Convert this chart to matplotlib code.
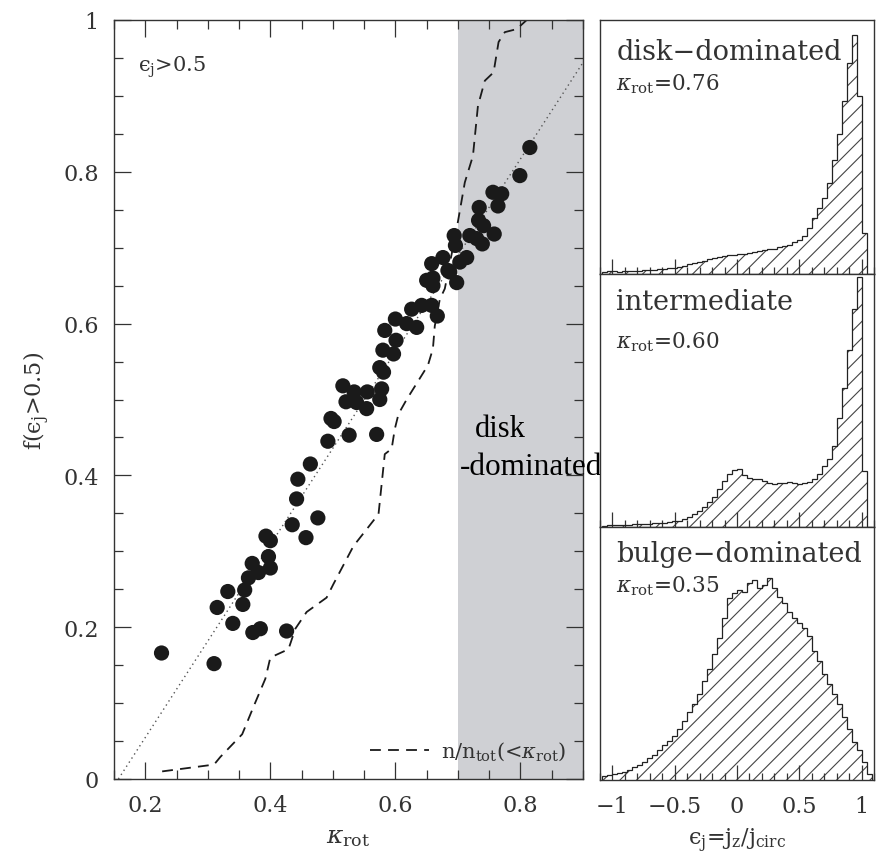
import numpy as np
import matplotlib
matplotlib.use("Agg")
import matplotlib.pyplot as plt
from matplotlib.ticker import MultipleLocator, NullLocator, NullFormatter

plt.rcParams['font.family'] = ['DejaVu Serif']
plt.rcParams['mathtext.fontset'] = 'dejavuserif'
plt.rcParams['hatch.linewidth'] = 0.8
plt.rcParams['hatch.color'] = '#444444'

# ---------------- data ----------------
kappa_rot = [0.226, 0.310, 0.315, 0.332, 0.340, 0.356, 0.359, 0.365, 0.371, 0.381,
             0.372, 0.384, 0.397, 0.400, 0.393, 0.400, 0.426, 0.435, 0.442, 0.444,
             0.457, 0.464, 0.476, 0.492, 0.497, 0.502, 0.526, 0.570, 0.521, 0.538,
             0.554, 0.575, 0.516, 0.534, 0.555, 0.578, 0.575, 0.581, 0.580, 0.597,
             0.601, 0.583, 0.600, 0.618, 0.634, 0.626, 0.642, 0.658, 0.667, 0.650,
             0.660, 0.660, 0.676, 0.687, 0.698, 0.694, 0.696, 0.714, 0.703, 0.719,
             0.730, 0.739, 0.741, 0.758, 0.733, 0.734, 0.756, 0.770, 0.764, 0.799,
             0.815, 0.658, 0.684]
f_eps = [0.166, 0.152, 0.226, 0.247, 0.205, 0.230, 0.249, 0.265, 0.284, 0.272,
         0.193, 0.198, 0.293, 0.278, 0.320, 0.314, 0.195, 0.335, 0.369, 0.395,
         0.318, 0.415, 0.344, 0.445, 0.475, 0.471, 0.453, 0.454, 0.497, 0.496,
         0.488, 0.500, 0.518, 0.510, 0.510, 0.514, 0.542, 0.536, 0.565, 0.560,
         0.578, 0.591, 0.606, 0.600, 0.595, 0.619, 0.624, 0.624, 0.610, 0.657,
         0.650, 0.660, 0.687, 0.668, 0.654, 0.716, 0.703, 0.687, 0.681, 0.716,
         0.712, 0.705, 0.729, 0.718, 0.736, 0.753, 0.773, 0.771, 0.755, 0.795,
         0.832, 0.679, 0.670]

fit_kappa = [0.157, 0.90]
fit_f = [0.0, 0.944]

cum_kappa = [0.227, 0.310, 0.320, 0.355, 0.374, 0.392, 0.400, 0.429, 0.440, 0.458,
             0.490, 0.501, 0.533, 0.554, 0.573, 0.583, 0.594, 0.599, 0.605, 0.618,
             0.652, 0.660, 0.663, 0.671, 0.679, 0.698, 0.711, 0.724, 0.732, 0.743,
             0.757, 0.765, 0.775, 0.794, 0.810]
cum_frac = [0.010, 0.019, 0.029, 0.059, 0.097, 0.132, 0.160, 0.171, 0.198, 0.220,
            0.239, 0.257, 0.307, 0.329, 0.349, 0.428, 0.435, 0.461, 0.481, 0.500,
            0.545, 0.567, 0.597, 0.632, 0.646, 0.725, 0.786, 0.821, 0.887, 0.920,
            0.931, 0.971, 0.984, 0.988, 1.000]

disk_region = [0.7, 0.9]

# histogram bin centers from -1.06 to 1.06 (bin width 0.04), heights normalised
disk_h = [0.006, 0.010, 0.010, 0.008, 0.010, 0.010, 0.012, 0.012, 0.014, 0.015,
          0.016, 0.018, 0.020, 0.022, 0.025, 0.028, 0.032, 0.038, 0.042, 0.048,
          0.052, 0.058, 0.062, 0.066, 0.070, 0.074, 0.076,
          0.078, 0.080, 0.084, 0.088, 0.090, 0.094, 0.098, 0.100, 0.105, 0.110,
          0.115, 0.125, 0.135, 0.150, 0.180, 0.220, 0.260, 0.300, 0.360, 0.450,
          0.550, 0.680, 0.830, 0.940, 0.700, 0.160, 0.000]
inter_h = [0.005, 0.008, 0.008, 0.008, 0.008, 0.009, 0.010, 0.010, 0.012, 0.012,
           0.014, 0.015, 0.016, 0.020, 0.022, 0.025, 0.030, 0.040, 0.050, 0.065,
           0.080, 0.100, 0.120, 0.150, 0.180, 0.210, 0.225,
           0.228, 0.205, 0.195, 0.190, 0.188, 0.180, 0.175, 0.170, 0.174, 0.175,
           0.176, 0.172, 0.170, 0.172, 0.178, 0.190, 0.210, 0.240, 0.270, 0.320,
           0.430, 0.550, 0.700, 0.860, 0.990, 0.220, 0.000]
bulge_h = [0.015, 0.018, 0.022, 0.026, 0.032, 0.040, 0.050, 0.060, 0.072, 0.085,
           0.100, 0.120, 0.138, 0.155, 0.175, 0.200, 0.235, 0.270, 0.300, 0.340,
           0.390, 0.440, 0.500, 0.560, 0.640, 0.720, 0.740,
           0.750, 0.745, 0.780, 0.790, 0.760, 0.770, 0.800, 0.760, 0.725, 0.700,
           0.665, 0.640, 0.620, 0.600, 0.570, 0.510, 0.470, 0.420, 0.380, 0.340,
           0.300, 0.250, 0.200, 0.150, 0.120, 0.070, 0.025]
bin_lo, bin_hi = -1.08, 1.08

panel_titles = ['disk\u2212dominated', 'intermediate', 'bulge\u2212dominated']
panel_kappas = ['0.76', '0.60', '0.35']
hist_xticks = [-1, -0.5, 0, 0.5, 1]
hist_xticklabels = ['\u22121', '\u22120.5', '0', '0.5', '1']

EPS = '\u03f5'

# ---------------- figure ----------------
W, H = 883, 862
fig = plt.figure(figsize=(W / 100, H / 100), dpi=100)

def box(l, t, r, b):
    return [l / W, 1 - b / H, (r - l) / W, (b - t) / H]

spine_col = '#333333'
txt_col = '#333333'
ax = fig.add_axes(box(114, 21, 583, 780))
ax.set_xlim(0.15, 0.9)
ax.set_ylim(0, 1)
ax.axvspan(disk_region[0], disk_region[1], color='#cfd0d4', lw=0, zorder=0)
ax.plot(fit_kappa, fit_f, ls=(0, (1, 2.5)), color='#555555', lw=1.0, zorder=2)
ax.plot(cum_kappa, cum_frac, ls=(0, (6, 4)), color='#1a1a1a', lw=1.3, zorder=2,
        label=r'n/n$_{\rm tot}$(<$\kappa_{\rm rot}$)')
ax.scatter(kappa_rot, f_eps, s=120, color='#1a1a1a', edgecolors='none', zorder=3)

ax.xaxis.set_minor_locator(MultipleLocator(0.05))
ax.yaxis.set_minor_locator(MultipleLocator(0.05))
ax.set_xticks([0.2, 0.4, 0.6, 0.8])
ax.set_xticklabels(['0.2', '0.4', '0.6', '0.8'])
ax.set_yticks([0, 0.2, 0.4, 0.6, 0.8, 1])
ax.set_yticklabels(['0', '0.2', '0.4', '0.6', '0.8', '1'])
ax.tick_params(which='both', direction='in', top=True, right=True, color=spine_col, width=0.9)
ax.tick_params(which='major', length=12, labelsize=16, pad=11, labelcolor=txt_col)
ax.tick_params(which='minor', length=6.5)
for s in ax.spines.values():
    s.set_color(spine_col)
    s.set_linewidth(1.0)
ax.set_xlabel(r'$\kappa_{\rm rot}$', fontsize=18, color=txt_col, labelpad=6)
ax.set_ylabel('f(' + EPS + r'$_{\rm j}$>0.5)', fontsize=16, color=txt_col, labelpad=8)
ax.text(0.052, 0.933, EPS + r'$_{\rm j}$>0.5', transform=ax.transAxes,
        fontsize=15, color=txt_col, va='baseline')
ax.text(0.727, 0.452, 'disk', fontsize=22, family='Liberation Serif', va='baseline',
        color='black', zorder=5, clip_on=False)
ax.text(0.703, 0.402, '-dominated', fontsize=22.5, family='Liberation Serif', va='baseline',
        color='black', zorder=5, clip_on=False)
leg = ax.legend(loc='lower right', frameon=False, fontsize=15, handlelength=2.8,
                handletextpad=0.6, borderaxespad=0.4, labelcolor=txt_col)

# ---------------- histogram panels ----------------
edges = np.linspace(bin_lo, bin_hi, len(disk_h) + 1)
panels = [(21, 275), (275, 528), (528, 781)]
hists = [disk_h, inter_h, bulge_h]
title_y = [0.846, 0.862, 0.866]
kap_y = [0.728, 0.711, 0.747]
for i, ((t, b), h) in enumerate(zip(panels, hists)):
    hx = fig.add_axes(box(600, t, 874, b))
    hx.set_xlim(-1.1, 1.1)
    hx.set_ylim(0, 1)
    hx.stairs(h, edges, fill=True, facecolor='white', edgecolor='#444444',
              hatch='//', linewidth=0, zorder=1)
    hx.stairs(h, edges, fill=False, edgecolor='#222222', linewidth=0.9, zorder=2)
    hx.yaxis.set_major_locator(NullLocator())
    hx.set_xticks(hist_xticks)
    hx.xaxis.set_minor_locator(MultipleLocator(0.1))
    hx.tick_params(which='both', direction='in', color=spine_col, width=0.9)
    hx.tick_params(which='major', length=11, pad=11, labelsize=16, labelcolor=txt_col)
    hx.tick_params(which='minor', length=5)
    if i == 2:
        hx.set_xticklabels(hist_xticklabels)
        hx.set_xlabel(EPS + r'$_{\rm j}$=j$_{\rm z}$/j$_{\rm circ}$', fontsize=16,
                      color=txt_col, labelpad=6)
    else:
        hx.xaxis.set_major_formatter(NullFormatter())
    for s in hx.spines.values():
        s.set_color(spine_col)
        s.set_linewidth(1.0)
    hx.text(0.06, title_y[i], panel_titles[i], transform=hx.transAxes, fontsize=19.5,
            color=txt_col, va='baseline')
    hx.text(0.06, kap_y[i], r'$\kappa_{\rm rot}$=' + panel_kappas[i], transform=hx.transAxes,
            fontsize=15.5, color=txt_col, va='baseline')

fig.savefig('out.png', dpi=100)
